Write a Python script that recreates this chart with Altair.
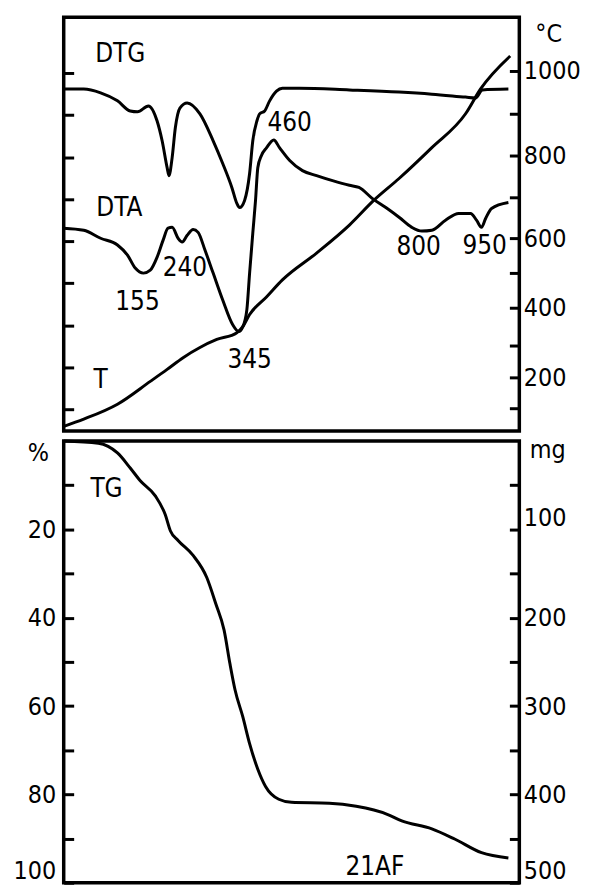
import altair as alt
import pandas as pd

FONT = "DejaVu Sans Condensed, DejaVu Sans, sans-serif"

# ---------------- data (time axis in arbitrary units 0..100) ----------------
dtg_t = [0.0, 4.4, 8.1, 11.8, 14.6, 16.2, 18.6, 20.5, 21.6, 22.7, 23.1, 23.8, 24.5, 25.5,
         27.1, 29.9, 32.8, 34.9, 36.9, 38.0, 38.6, 39.7, 40.8, 41.5, 42.4, 43.0, 44.1,
         45.2, 46.7, 48.0, 51.7, 62.7, 73.6, 80.8, 88.2, 90.4, 91.9, 97.6]
dtg_v = [7.62, 7.62, 7.53, 7.34, 7.10, 7.08, 7.22, 6.86, 6.39, 5.75, 5.56, 5.99, 6.70, 7.17,
         7.29, 7.03, 6.39, 5.85, 5.28, 4.90, 4.80, 4.97, 5.61, 6.39, 6.86, 7.03, 7.10,
         7.34, 7.57, 7.64, 7.64, 7.60, 7.55, 7.50, 7.43, 7.41, 7.60, 7.62]

dta_t = [0.0, 4.4, 8.1, 11.8, 14.0, 15.7, 17.5, 19.0, 20.5, 21.8, 22.9, 23.8, 25.1, 26.0,
         27.1, 28.4, 29.5, 31.0, 32.8, 34.9, 37.1, 38.4, 39.3, 40.2, 40.8, 41.5, 42.1,
         42.6, 43.4, 44.5, 46.1, 47.4, 49.6, 52.4, 55.5, 59.0, 62.7, 64.8, 67.7, 70.7,
         73.6, 76.4, 78.6, 80.8, 83.8, 86.7, 89.3, 90.6, 91.7, 92.6, 93.9, 97.6]
dta_v = [4.31, 4.26, 4.07, 3.91, 3.67, 3.36, 3.24, 3.31, 3.62, 4.02, 4.31, 4.33, 4.07, 3.98,
         4.14, 4.28, 4.21, 3.79, 3.24, 2.60, 2.01, 1.85, 1.96, 2.37, 3.24, 4.19, 4.97,
         5.75, 6.04, 6.22, 6.41, 6.22, 5.92, 5.68, 5.56, 5.44, 5.33, 5.28, 5.02, 4.80,
         4.57, 4.33, 4.24, 4.26, 4.50, 4.66, 4.66, 4.50, 4.33, 4.54, 4.78, 4.92]

temp_t = [0.0, 4.4, 11.8, 19.0, 22.7, 26.2, 29.9, 33.6, 38.0, 39.3, 40.8, 44.5, 48.0,
          55.5, 62.7, 68.1, 73.6, 80.8, 88.2, 91.5, 98.0]
temp_c = [30, 58, 113, 187, 225, 262, 294, 316, 334, 350, 382, 431, 480,
          557, 632, 693, 745, 819, 900, 958, 1035]

tg_t = [0.0, 7.6, 11.8, 14.6, 16.8, 20.1, 22.3, 23.4, 25.1, 28.4, 31.4, 33.4, 35.2, 36.5,
        37.6, 39.3, 40.8, 42.6, 44.3, 47.2, 50.0, 58.3, 64.2, 71.0, 74.2, 80.8, 85.8,
        91.7, 97.6]
tg_pct = [0.0, 0.5, 2.7, 6.1, 9.0, 12.4, 16.7, 20.3, 22.5, 25.9, 30.9, 36.9, 42.8, 50.5,
          56.3, 62.4, 68.5, 74.3, 78.2, 81.1, 81.8, 82.0, 82.7, 84.5, 86.0, 87.8, 90.1,
          93.2, 94.4]

top_label_text = ["DTG", "DTA", "155", "240", "345", "T", "460", "800", "950"]
top_label_t = [12.4, 12.2, 16.2, 26.6, 40.8, 8.1, 49.6, 77.9, 92.4]
top_label_v = [8.45, 4.78, 2.56, 3.36, 1.18, 0.69, 6.82, 3.86, 3.88]

bot_label_text = ["TG", "21AF"]
bot_label_t = [9.4, 68.3]
bot_label_pct = [10.8, 96.4]

div_ticks = [0, 1, 2, 3, 4, 5, 6, 7, 8]
temp_ticks = [100, 200, 300, 400, 500, 600, 700, 800, 900, 1000]
pct_ticks = [10, 20, 30, 40, 50, 60, 70, 80, 90, 100]
mg_ticks = [50, 100, 150, 200, 250, 300, 350, 400, 450, 500]

# ---------------- tables ----------------
curves_df = pd.concat([
    pd.DataFrame({"t": dtg_t, "v": dtg_v, "curve": "DTG"}),
    pd.DataFrame({"t": dta_t, "v": dta_v, "curve": "DTA"}),
])
temp_df = pd.DataFrame({"t": temp_t, "c": temp_c})
tg_df = pd.DataFrame({"t": tg_t, "p": tg_pct})
top_lab_df = pd.DataFrame({"t": top_label_t, "v": top_label_v, "label": top_label_text})
bot_lab_df = pd.DataFrame({"t": bot_label_t, "p": bot_label_pct, "label": bot_label_text})
mg_df = pd.DataFrame({"mg": mg_ticks})

W, H1, H2 = 458, 416, 444

x_scale = alt.Scale(domain=[0, 100], nice=False, zero=False)
div_scale = alt.Scale(domain=[-0.52, 9.33], nice=False, zero=False)
temp_scale = alt.Scale(
    domain=[0, 100, 200, 300, 400, 500, 600, 700, 800, 900, 1000],
    range=[419, 393, 362, 330, 292, 257, 222, 181, 139, 97, 54],
    nice=False, zero=False)
pct_scale = alt.Scale(domain=[0, 100], reverse=True, nice=False, zero=False)
mg_scale = alt.Scale(domain=[0, 500], reverse=True, nice=False, zero=False)

LBL = 25
tick_common = dict(domain=False, grid=False, tickSize=10, offset=-10,
                   tickColor="black", tickWidth=3, labelFont=FONT, labelFontSize=LBL,
                   labelColor="black", labelOverlap=False, titleFont=FONT,
                   titleFontSize=LBL, titleFontWeight="normal", titleColor="black",
                   titleAngle=0, titleAlign="center", titleBaseline="middle")

last_baseline = {"condition": {"test": "datum.value == 100 || datum.value == 500",
                               "value": "bottom"}, "value": "middle"}
last_offset = {"condition": {"test": "datum.value == 100 || datum.value == 500",
                             "value": 1}, "value": 0}

left_top_axis = alt.Axis(orient="left", values=div_ticks, labels=False, title=None,
                         domain=False, grid=False, tickSize=10, offset=-10,
                         tickColor="black", tickWidth=3)
right_top_axis = alt.Axis(orient="right", values=temp_ticks, format="d",
                          labelExpr="datum.value % 200 == 0 ? datum.label : ''",
                          labelPadding=4, title="°C", titleX=39, titleY=16,
                          **tick_common)
left_bot_axis = alt.Axis(orient="left", values=pct_ticks, format="d",
                         labelExpr="datum.value % 20 == 0 ? datum.label : ''",
                         labelPadding=8, title="%", titleX=-36, titleY=12,
                         labelBaseline=last_baseline, labelOffset=last_offset,
                         **tick_common)
right_bot_axis = alt.Axis(orient="right", values=mg_ticks, format="d",
                          labelExpr="datum.value % 100 == 0 ? datum.label : ''",
                          labelPadding=4, title="mg", titleX=38, titleY=9,
                          labelBaseline=last_baseline, labelOffset=last_offset,
                          **tick_common)

line_kw = dict(color="black", strokeWidth=3, interpolate="monotone")
text_kw = dict(font=FONT, fontSize=26, color="black", align="center", baseline="middle")

curves = alt.Chart(curves_df).mark_line(**line_kw).encode(
    x=alt.X("t:Q", scale=x_scale, axis=None),
    y=alt.Y("v:Q", scale=div_scale, axis=left_top_axis),
    detail="curve:N",
)
top_text = alt.Chart(top_lab_df).mark_text(**text_kw).encode(
    x=alt.X("t:Q", scale=x_scale, axis=None),
    y=alt.Y("v:Q", scale=div_scale, axis=None),
    text="label:N",
)
temp_line = alt.Chart(temp_df).mark_line(**line_kw).encode(
    x=alt.X("t:Q", scale=x_scale, axis=None),
    y=alt.Y("c:Q", scale=temp_scale, axis=right_top_axis),
)
top = alt.layer(curves, top_text, temp_line).resolve_scale(y="independent").properties(
    width=W, height=H1)

tg_line = alt.Chart(tg_df).mark_line(**line_kw).encode(
    x=alt.X("t:Q", scale=x_scale, axis=None),
    y=alt.Y("p:Q", scale=pct_scale, axis=left_bot_axis),
)
bot_text = alt.Chart(bot_lab_df).mark_text(**text_kw).encode(
    x=alt.X("t:Q", scale=x_scale, axis=None),
    y=alt.Y("p:Q", scale=pct_scale, axis=None),
    text="label:N",
)
mg_axis_layer = alt.Chart(mg_df).mark_point(opacity=0).encode(
    y=alt.Y("mg:Q", scale=mg_scale, axis=right_bot_axis),
)
bottom = alt.layer(tg_line, bot_text, mg_axis_layer).resolve_scale(y="independent").properties(
    width=W, height=H2)

chart = alt.vconcat(top, bottom, spacing=10, bounds="flush").properties(
    padding={"left": 3, "top": 5, "right": 0, "bottom": 0},
    background="white",
).configure_view(stroke="black", strokeWidth=3.5)

chart.save("out.html", embed_options={"renderer": "svg", "actions": False})
